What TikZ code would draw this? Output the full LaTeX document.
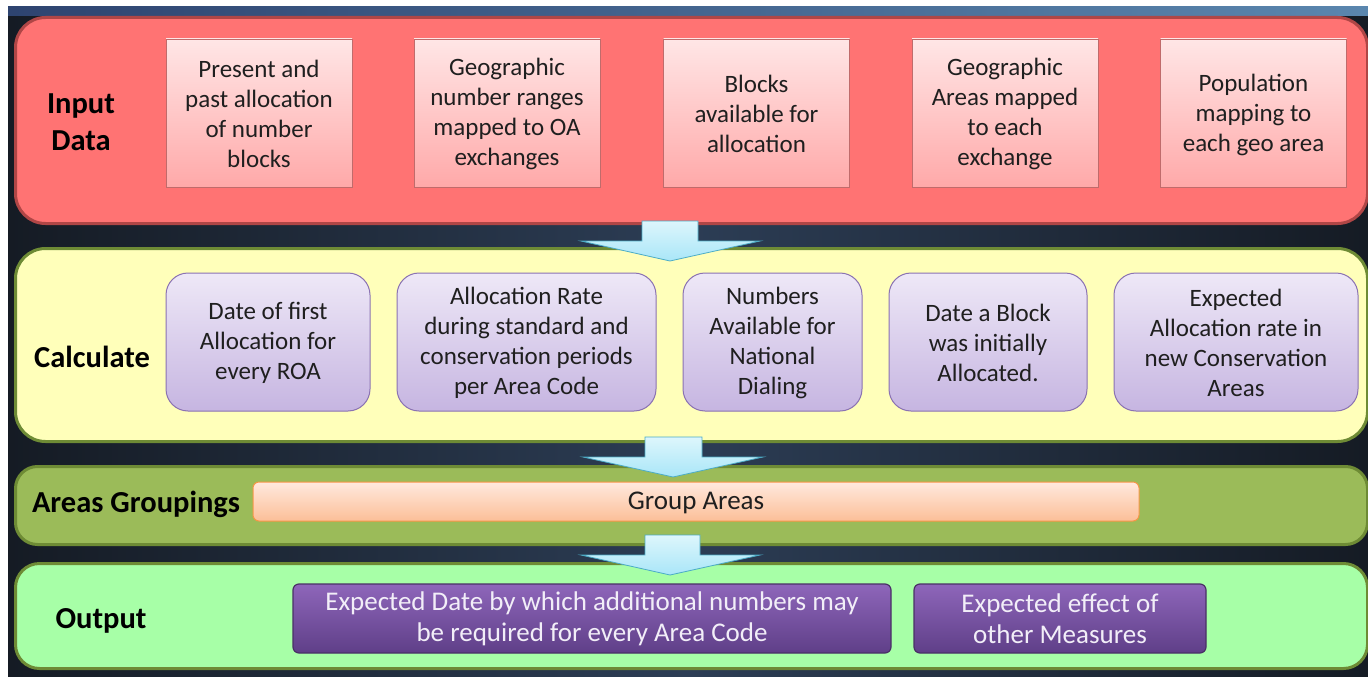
\documentclass[tikz,border=0pt]{standalone}
\usepackage{fontspec}
\setmainfont{Carlito}
\begin{document}
\begin{tikzpicture}[x=1pt,y=-1pt,
  band/.style={draw, line width=3pt, rounded corners=30pt, anchor=north west, inner sep=0pt},
  lbl/.style={font=\fontsize{30.5}{37}\selectfont\bfseries, align=center, text=black},
  txt/.style={font=\fontsize{25}{30}\selectfont, align=center, text=black!88},
  inbox/.style={draw=redborder!80, line width=0.8pt, top color=inT, bottom color=inB, minimum height=148pt, minimum width=186pt, inner sep=0pt},
  calcbox/.style={draw=calcD, line width=1pt, rounded corners=22pt, top color=calcT, bottom color=calcB, minimum height=138pt, inner sep=0pt},
  outbox/.style={draw=outD, line width=1.2pt, rounded corners=6pt, top color=outT, bottom color=outB, minimum height=69pt, inner sep=0pt, font=\fontsize{27}{31}\selectfont, align=center, text=outTxt},
  flowarrow/.style={draw=arrD, line width=0.8pt, top color=arrT, bottom color=arrB}
]
\definecolor{navyL}{HTML}{151B24}
\definecolor{navyM}{HTML}{2C3D55}
\definecolor{stripL}{HTML}{2E4470}
\definecolor{stripR}{HTML}{5A86AE}
\definecolor{redband}{HTML}{FF7373}
\definecolor{redborder}{HTML}{B04646}
\definecolor{inT}{HTML}{FFE6E6}
\definecolor{inB}{HTML}{FFA9A9}
\definecolor{yelband}{HTML}{FFFFBA}
\definecolor{oliveborder}{HTML}{6E8B35}
\definecolor{areaband}{HTML}{9BBB59}
\definecolor{outband}{HTML}{A7FFA7}
\definecolor{peachT}{HTML}{FFE9DE}
\definecolor{peachB}{HTML}{FCBF98}
\definecolor{peachD}{HTML}{F79646}
\definecolor{calcT}{HTML}{EEE8F7}
\definecolor{calcB}{HTML}{C6B5E1}
\definecolor{calcD}{HTML}{8A72B2}
\definecolor{outT}{HTML}{8E66BA}
\definecolor{outB}{HTML}{5F3F88}
\definecolor{outD}{HTML}{4A3166}
\definecolor{outTxt}{HTML}{F2EEF8}
\definecolor{arrT}{HTML}{DDF6FC}
\definecolor{arrB}{HTML}{A9E6F8}
\definecolor{arrD}{HTML}{4BACC6}
\useasboundingbox (0,0) rectangle (1368,677);
\fill[white] (0,0) rectangle (1368,677);
\shade[left color=navyL, right color=navyL, middle color=navyM] (8,7) rectangle (1368,677);
\shade[left color=stripL, right color=stripR] (8,7) rectangle (1368,16);

% bands
\node[band, draw=redborder, fill=redband, minimum width=1352pt, minimum height=206pt] (input) at (14,16) {};
\node[band, draw=oliveborder, fill=yelband, minimum width=1352pt, minimum height=193pt] (calc) at (14,247) {};
\node[band, draw=oliveborder, fill=areaband, minimum width=1352pt, minimum height=78pt, rounded corners=22pt] (groups) at (14,465) {};
\node[band, draw=oliveborder, fill=outband, minimum width=1352pt, minimum height=105pt, rounded corners=24pt] (output) at (14,562) {};

% labels
\node[lbl] (linput) at (81,122) {Input\\Data};
\node[lbl] (lcalc) at (92,357) {Calculate};
\node[lbl] (lgroups) at (136,504) {Areas Groupings};
\node[lbl] (loutput) at (101,621) {Output};

% input boxes
\node[inbox] (i1) at (259,113) {};
\node[txt] at (259,114) {Present and\\past allocation\\of number\\blocks};
\node[inbox] (i2) at (507,113) {};
\node[txt] at (507,114) {Geographic\\number ranges\\mapped to OA\\exchanges};
\node[inbox] (i3) at (756.5,113) {};
\node[txt] at (756.5,114) {Blocks\\available for\\allocation};
\node[inbox] (i4) at (1005,113) {};
\node[txt] at (1005,114) {Geographic\\Areas mapped\\to each\\exchange};
\node[inbox] (i5) at (1253.5,113) {};
\node[txt] at (1253.5,115) {Population\\mapping to\\each geo area};

% calc boxes
\node[calcbox, minimum width=204pt] (c1) at (268,342) {};
\node[txt] at (268,343) {Date of first\\Allocation for\\every ROA};
\node[calcbox, minimum width=259pt] (c2) at (526.5,342) {};
\node[txt] at (526.5,343) {Allocation Rate\\during standard and\\conservation periods\\per Area Code};
\node[calcbox, minimum width=179pt] (c3) at (772.5,342) {};
\node[txt] at (772.5,343) {Numbers\\Available for\\National\\Dialing};
\node[calcbox, minimum width=198pt] (c4) at (988,342) {};
\node[txt] at (988,343) {Date a Block\\was initially\\Allocated.};
\node[calcbox, minimum width=244pt] (c5) at (1236,342) {};
\node[txt] at (1236,343) {Expected\\Allocation rate in\\new Conservation\\Areas};

% group box
\node[draw=peachD, line width=1pt, rounded corners=6pt, top color=peachT, bottom color=peachB, minimum width=886pt, minimum height=39pt, inner sep=0pt] (g1) at (696,501.5) {};
\node[txt, font=\fontsize{27}{30}\selectfont] at (696,503) {Group Areas};

% output boxes
\node[outbox, minimum width=598pt] (o1) at (592,618.5) {Expected Date by which additional numbers may\\be required for every Area Code};
\node[outbox, minimum width=292pt] (o2) at (1060,618.5) {Expected effect of\\other Measures};

% block arrows
\draw[flowarrow] (642,221) -- (698,221) -- (698,241) -- (760,241) -- (670,261) -- (581,241) -- (642,241) -- cycle;
\draw[flowarrow] (645,437) -- (702,437) -- (702,457) -- (763,457) -- (673,477) -- (583,457) -- (645,457) -- cycle;
\draw[flowarrow] (645,535) -- (700,535) -- (700,555) -- (760,555) -- (670,575) -- (581,555) -- (645,555) -- cycle;
\end{tikzpicture}
\end{document}
